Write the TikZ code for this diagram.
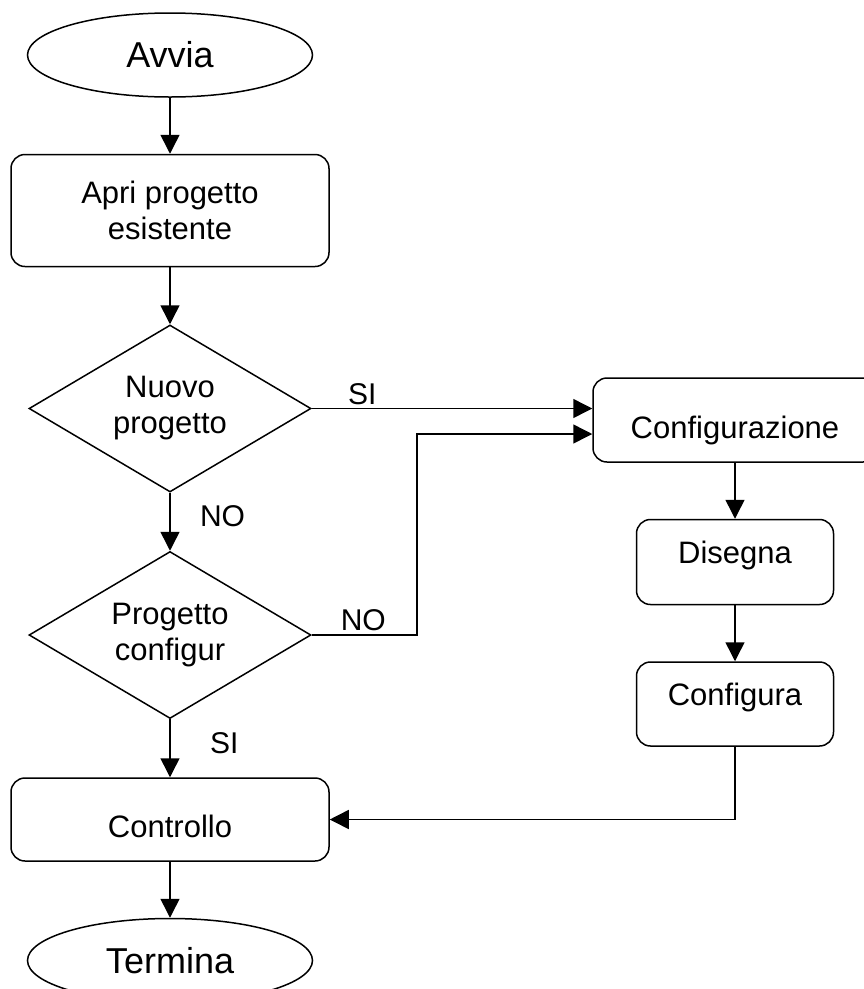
\documentclass[tikz,border=0pt]{standalone}
\usepackage{fontspec}
\setmainfont{Liberation Sans}
\usetikzlibrary{positioning}
\usetikzlibrary{shapes.geometric}
\usetikzlibrary{arrows.meta}

\tikzset{
  terminal/.style={draw, ellipse, line width=1.5pt, minimum width=285pt, minimum height=84pt, font=\fontsize{36}{40}\selectfont},
  process/.style={draw, rectangle, rounded corners=14pt, line width=1.5pt, align=center, font=\fontsize{31}{36}\selectfont},
  decision/.style={draw, diamond, aspect=1.69, line width=1.5pt, minimum width=282pt, minimum height=167pt, inner sep=0pt, align=center, font=\fontsize{31}{36}\selectfont},
  raised/.style={text height=22pt, text depth=19pt},
  lowered/.style={text height=36pt, text depth=0pt},
  flow/.style={-{Triangle[length=19pt,width=19pt]}, line width=1.5pt},
  answer/.style={font=\fontsize{30}{36}\selectfont}
}

\begin{document}
\begin{tikzpicture}[x=1pt, y=1pt, node distance=56pt]
  \useasboundingbox (0,0) rectangle (864,-989);

  \node[terminal] (avvia) at (170,-55) {Avvia};
  \node[process, below=of avvia, minimum width=318pt, minimum height=112pt] (apri) {Apri progetto\\esistente};
  \node[decision, below=57pt of apri] (nuovo) {Nuovo\\progetto};
  \node[decision, below=58pt of nuovo] (verifica) {Progetto\\configur};
  \node[process, lowered, below=58pt of verifica, minimum width=318pt, minimum height=83pt] (controllo) {Controllo};
  \node[terminal, below=of controllo] (termina) {Termina};

  \node[process, lowered, minimum width=284pt, minimum height=84pt] (config) at (735,-420) {Configurazione};
  \node[process, raised, below=of config, minimum width=197pt, minimum height=85pt] (disegna) {Disegna};
  \node[process, raised, below=of disegna, minimum width=197pt, minimum height=84pt] (configura) {Configura};
  \coordinate (ritorno) at (417,-434);

  \path[flow] (avvia) edge (apri);
  \path[flow] (apri) edge (nuovo);
  \draw[flow] (nuovo.east) -- node[answer, above, pos=0.18] {SI} (nuovo.east -| config.west);
  \draw[flow] (nuovo) -- node[answer, right=26pt, pos=0.4] {NO} (verifica);
  \draw[flow] (verifica.east) -| node[answer, above, pos=0.245] {NO} (ritorno) -- (ritorno -| config.west);
  \draw[flow] (verifica) -- node[answer, right=36pt, pos=0.41] {SI} (controllo);
  \path[flow] (controllo) edge (termina);

  \path[flow] (config) edge (disegna);
  \path[flow] (disegna) edge (configura);
  \draw[flow] (configura.south) |- (controllo.east);
\end{tikzpicture}
\end{document}
